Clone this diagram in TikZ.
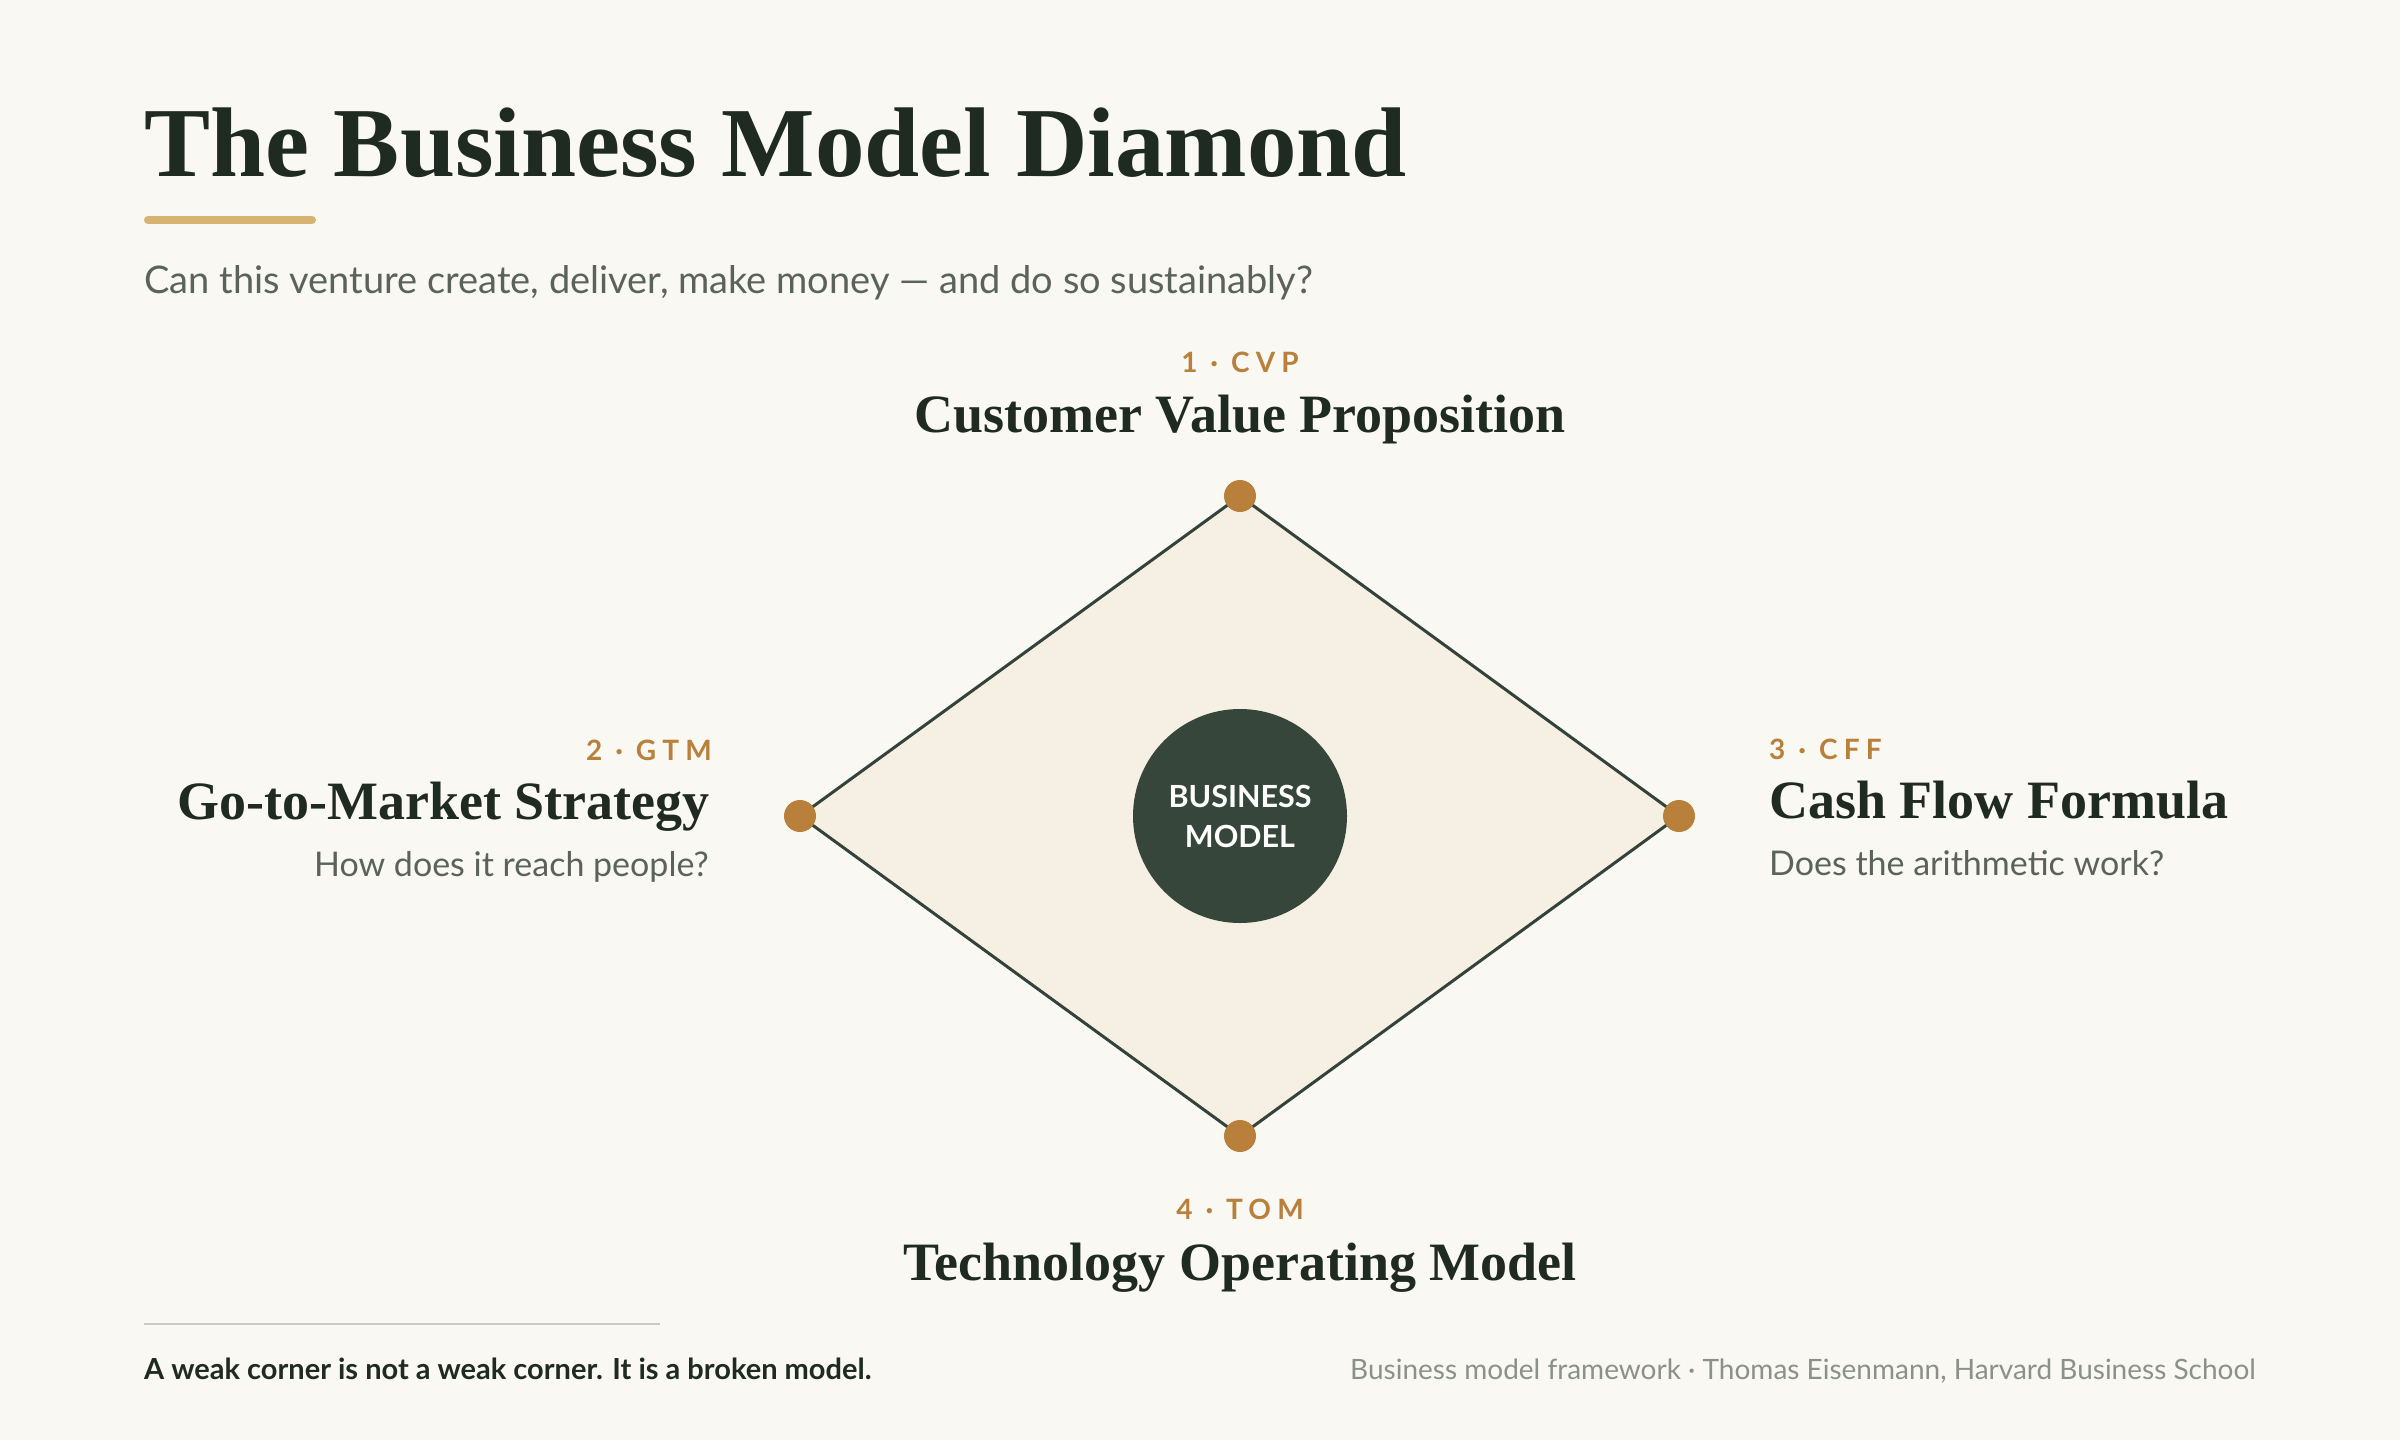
\documentclass[tikz,border=0pt]{standalone}
\usepackage{fontspec}
\setmainfont{Liberation Serif}
\newfontfamily\uiFont{Lato}
\definecolor{paperBg}{HTML}{F9F8F3}
\definecolor{inkDark}{HTML}{1F2A22}
\definecolor{inkGray}{HTML}{5A6358}
\definecolor{inkLight}{HTML}{8B918A}
\definecolor{goldTag}{HTML}{B8803A}
\definecolor{goldBar}{HTML}{D6B370}
\definecolor{diamondFill}{HTML}{F6EFE3}
\definecolor{diamondLine}{HTML}{33423A}
\definecolor{hubFill}{HTML}{36463B}
\definecolor{ruleGray}{HTML}{C8CBC4}
\begin{document}
\begin{tikzpicture}[x=1pt, y=-1pt,
    titleStyle/.style={font=\fontsize{99}{100}\selectfont\bfseries, text=inkDark, inner sep=0, anchor=base west},
    subStyle/.style={font=\uiFont\fontsize{38}{42}\selectfont, text=inkGray, inner sep=0, anchor=base west},
    tagStyle/.style={font=\uiFont\bfseries\fontsize{28}{30}\selectfont\addfontfeature{LetterSpace=22}, text=goldTag, inner sep=0},
    headStyle/.style={font=\fontsize{54}{60}\selectfont\bfseries, text=inkDark, inner sep=0},
    askStyle/.style={font=\uiFont\fontsize{34}{38}\selectfont, text=inkGray, inner sep=0},
    dotStyle/.style={circle, fill=goldTag, minimum size=32pt, inner sep=0},
    hubStyle/.style={circle, fill=hubFill, minimum size=214pt, inner sep=0, align=center, text=white, font=\uiFont\bfseries\fontsize{30.5}{40}\selectfont},
    footStyle/.style={font=\uiFont\fontsize{28}{32}\selectfont, inner sep=0}]
    \fill[paperBg] (0,0) rectangle (2400,1440);
    \useasboundingbox (0,0) rectangle (2400,1440);

    % header
    \node[titleStyle] (title) at (144,176) {The Business Model Diamond};
    \coordinate (bar_L) at (148,220);
    \coordinate (bar_R) at (312,220);
    \draw[goldBar, line width=8pt, line cap=round] (bar_L) -- (bar_R);
    \node[subStyle] (subtitle) at (144,293) {Can this venture create, deliver, make money — and do so sustainably?};

    % diamond corners
    \coordinate (cvp_pt) at (1240, 496);
    \coordinate (gtm_pt) at ( 800, 816);
    \coordinate (cff_pt) at (1679, 816);
    \coordinate (tom_pt) at (1240,1136);
    \draw[fill=diamondFill, draw=diamondLine, line width=3pt, line join=miter] (cvp_pt) -- (cff_pt) -- (tom_pt) -- (gtm_pt) -- cycle;
    \node[dotStyle] (cvp_dot) at (cvp_pt) {};
    \node[dotStyle] (gtm_dot) at (gtm_pt) {};
    \node[dotStyle] (cff_dot) at (cff_pt) {};
    \node[dotStyle] (tom_dot) at (tom_pt) {};
    \node[hubStyle] (hub) at (1240,816) {BUSINESS\\MODEL};

    % top
    \node[tagStyle, anchor=base]  (cvp_tag)  at (1240,372) {1 · CVP};
    \node[headStyle, anchor=base] (cvp_head) at (1240,432) {Customer Value Proposition};

    % left
    \node[tagStyle, anchor=base east]  (gtm_tag)  at (712,760) {2 · GTM};
    \node[headStyle, anchor=base east] (gtm_head) at (710,819) {Go-to-Market Strategy};
    \node[askStyle, anchor=base east]  (gtm_ask)  at (709,876) {How does it reach people?};

    % right
    \node[tagStyle, anchor=base west]  (cff_tag)  at (1769,759) {3 · CFF};
    \node[headStyle, anchor=base west] (cff_head) at (1769,818) {Cash Flow Formula};
    \node[askStyle, anchor=base west]  (cff_ask)  at (1769,875) {Does the arithmetic work?};

    % bottom
    \node[tagStyle, anchor=base]  (tom_tag)  at (1240,1219) {4 · TOM};
    \node[headStyle, anchor=base] (tom_head) at (1240,1280) {Technology Operating Model};

    % footer
    \coordinate (rule_L) at (144,1324);
    \coordinate (rule_R) at (660,1324);
    \draw[ruleGray, line width=2pt] (rule_L) -- (rule_R);
    \node[footStyle, font=\uiFont\bfseries\fontsize{29}{32}\selectfont, text=inkDark, anchor=base west] (foot_note) at (144,1379) {A weak corner is not a weak corner. It is a broken model.};
    \node[footStyle, text=inkLight, anchor=base east] (foot_src) at (2256,1379) {Business model framework · Thomas Eisenmann, Harvard Business School};
\end{tikzpicture}
\end{document}
